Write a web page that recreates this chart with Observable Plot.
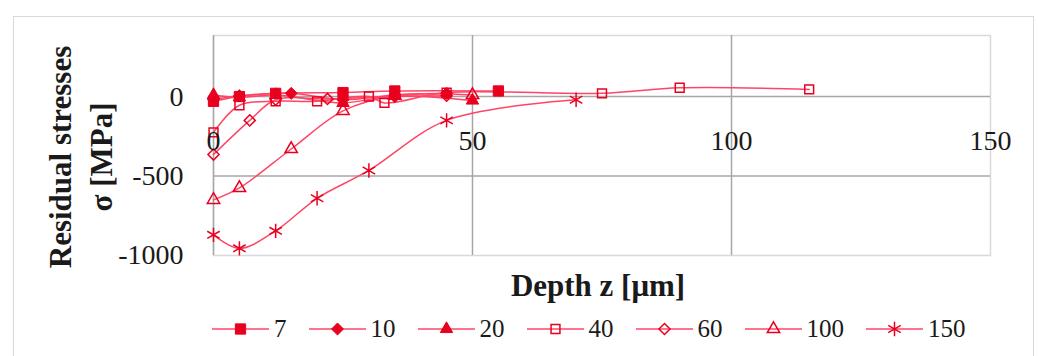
<!DOCTYPE html>
<html><head><meta charset="utf-8">
<script src="https://cdn.jsdelivr.net/npm/d3@7"></script>
<script src="https://cdn.jsdelivr.net/npm/@observablehq/plot@0.6"></script>
<style>
body{margin:0;background:#fff;font-family:"Liberation Serif",serif;}
#wrap{position:relative;width:1038px;height:356px;overflow:hidden;background:#fff;}
#frame{position:absolute;left:13px;top:16px;width:1019px;height:400px;border:1.5px solid #d9d9d9;}
#chart{position:absolute;left:0;top:0;}
#legend{position:absolute;left:212px;top:317px;display:flex;align-items:center;font-size:25px;color:#1a1a1a;line-height:24px;}
#legend .item{display:flex;align-items:center;margin-right:22px;}
#legend .item span{margin-left:5px;}
</style></head><body>
<div id="wrap"><div id="frame"></div><div id="chart"></div><div id="legend"></div></div>
<script>
// ---- data ----
const seriesNames = ["7", "10", "20", "40", "60", "100", "150"];
const depth7   = [0, 5, 12, 25, 35, 55];
const stress7  = [-30, 0, 20, 25, 35, 35];
const depth10  = [0, 5, 15, 25, 35, 45];
const stress10 = [-20, 5, 20, -20, 10, 20];
const depth20  = [0, 5, 12, 25, 35, 50];
const stress20 = [10, -5, 10, -40, 5, -25];
const depth40  = [0, 5, 12, 20, 30, 33, 45, 75, 90, 115];
const stress40 = [-225, -55, -30, -30, 0, -40, 25, 20, 55, 45];
const depth60  = [0, 7, 12, 22, 35, 45];
const stress60 = [-365, -150, -20, -15, 0, 5];
const depth100  = [0, 5, 15, 25, 35, 50];
const stress100 = [-650, -575, -330, -90, 5, 10];
const depth150  = [0, 5, 12, 20, 30, 45, 70];
const stress150 = [-870, -955, -845, -640, -465, -150, -20];
const xTicks = [0, 50, 100, 150];
const yTicks = [0, -500, -1000];

const depths = [depth7, depth10, depth20, depth40, depth60, depth100, depth150];
const stresses = [stress7, stress10, stress20, stress40, stress60, stress100, stress150];
const symbols = ["square", "diamond2", "triangle", "square", "diamond2", "triangle", "asterisk"];
const filled = [true, true, true, false, false, false, false];
const radii = [5.8, 5.4, 4.6, 5, 5, 4.6, 6.8];

const LINE = "#ff4566", MARK = "#e8001f", GRID = "#a6a6a6", BORDER = "#d9d9d9", TXT = "#1a1a1a";

const rows = [];
seriesNames.forEach((s, i) => depths[i].forEach((d, j) => rows.push({series: s, depth: d, stress: stresses[i][j]})));

const dotMarks = seriesNames.map((s, i) => Plot.dot(rows.filter(r => r.series === s), {
  x: "depth", y: "stress", symbol: () => symbols[i], r: radii[i],
  fill: filled[i] ? MARK : "none", stroke: MARK, strokeWidth: filled[i] ? 1 : 1.5
}));

const chart = Plot.plot({
  width: 1038, height: 300,
  marginLeft: 213, marginRight: 48, marginTop: 35, marginBottom: 45,
  x: {domain: [0, 150], axis: null},
  y: {domain: [-1000, 384], axis: null},
  symbol: {type: "identity"},
  style: {fontFamily: "Liberation Serif, serif", background: "transparent", overflow: "visible"},
  marks: [
    Plot.frame({stroke: BORDER, strokeWidth: 1.5}),
    Plot.ruleX([50, 100], {stroke: GRID, strokeWidth: 1.5}),
    Plot.ruleY([-500, 0], {stroke: GRID, strokeWidth: 1.5}),
    Plot.ruleX([0], {stroke: GRID, strokeWidth: 1.5}),
    Plot.line(rows, {x: "depth", y: "stress", z: "series", stroke: LINE, strokeWidth: 1.5, curve: "catmull-rom"}),
    ...dotMarks,
    Plot.text(yTicks, {x: 0, y: d => d, text: d => String(d), dx: -30, textAnchor: "end", lineAnchor: "middle", fontSize: 28, fill: TXT}),
    Plot.text(xTicks, {x: d => d, y: -277, text: d => String(d), textAnchor: "middle", lineAnchor: "middle", fontSize: 28, fill: TXT}),
    Plot.text(["Depth z [μm]"], {frameAnchor: "bottom", dx: -4, dy: 31, lineAnchor: "middle", fontSize: 31, fontWeight: "bold", fill: TXT})
  ]
});
document.getElementById("chart").appendChild(chart);

// y-axis title (two rotated lines)
const svg = d3.select(chart);
[["Residual stresses", 60], ["σ [MPa]", 101]].forEach(([t, x]) => {
  svg.append("text").attr("transform", `translate(${x},157) rotate(-90)`)
    .attr("text-anchor", "middle").attr("dominant-baseline", "central")
    .attr("font-size", 31).attr("font-weight", "bold").attr("fill", TXT)
    .attr("font-family", "Liberation Serif, serif").text(t);
});

// legend
const legend = d3.select("#legend");
const symMap = {square: d3.symbolSquare, diamond2: d3.symbolDiamond2, triangle: d3.symbolTriangle, asterisk: d3.symbolAsterisk};
seriesNames.forEach((s, i) => {
  const item = legend.append("div").attr("class", "item");
  const icon = item.append("svg").attr("width", 57).attr("height", 22);
  icon.append("line").attr("x1", 0).attr("x2", 57).attr("y1", 11).attr("y2", 11).attr("stroke", LINE).attr("stroke-width", 1.5);
  icon.append("path").attr("transform", "translate(28.5,11)")
    .attr("d", d3.symbol(symMap[symbols[i]], radii[i] * radii[i] * Math.PI)())
    .attr("fill", filled[i] ? MARK : "none").attr("stroke", MARK).attr("stroke-width", filled[i] ? 1 : 1.5);
  item.append("span").text(s);
});
</script>
</body></html>
